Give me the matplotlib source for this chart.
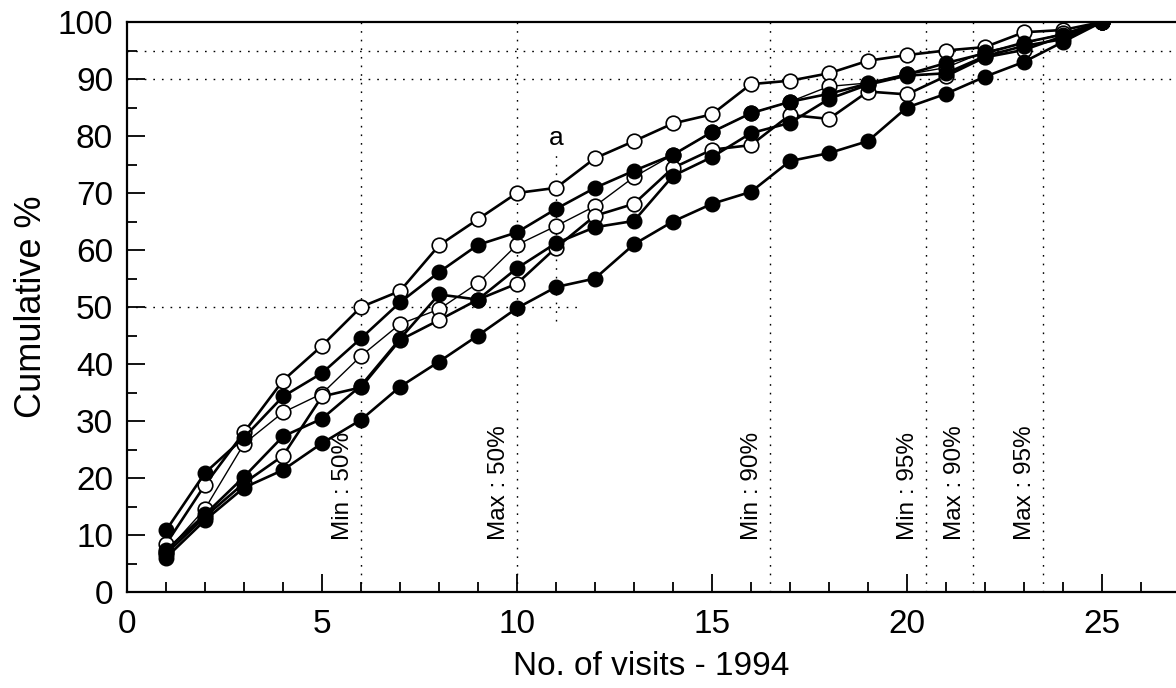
import numpy as np
import matplotlib.pyplot as plt
from matplotlib.ticker import MultipleLocator

plt.rcParams['font.family'] = ['Liberation Sans', 'DejaVu Sans']

# Visit number (1..25) and cumulative percentage for each site
visits = list(range(1, 26))

open_top = [8.4, 18.8, 28.0, 37.1, 43.2, 50.0, 52.8, 60.8, 65.4, 70.0, 70.9, 76.1, 79.1,
            82.2, 83.8, 89.1, 89.7, 91.0, 93.2, 94.2, 95.0, 95.6, 98.2, 98.6, 100]
open_thin = [7.0, 14.6, 26.0, 31.5, 34.8, 41.4, 47.0, 49.6, 54.2, 60.9, 64.2, 67.7, 72.8,
             76.7, 80.7, 84.0, 86.0, 88.7, 89.3, 90.8, 92.0, 94.8, 96.2, 98.0, 100]
open_mid = [6.7, 13.2, 19.1, 23.9, 34.3, 35.9, 44.2, 47.7, 51.3, 54.1, 60.4, 66.0, 68.1,
            74.4, 77.6, 78.4, 83.7, 83.0, 87.8, 87.3, 90.5, 93.8, 95.1, 97.5, 100]
filled_top = [10.8, 20.9, 27.1, 34.3, 38.4, 44.5, 50.8, 56.1, 60.9, 63.1, 67.2, 70.9, 73.9,
              76.7, 80.7, 84.0, 86.0, 87.4, 89.2, 90.8, 92.8, 94.5, 96.4, 97.8, 100]
filled_mid = [7.3, 13.6, 20.2, 27.3, 30.4, 36.2, 44.4, 52.2, 51.3, 56.8, 61.2, 64.0, 65.1,
              73.0, 76.3, 80.5, 82.3, 86.5, 89.0, 90.6, 91.0, 94.0, 95.8, 97.0, 100]
filled_low = [6.0, 12.6, 18.3, 21.4, 26.1, 30.2, 36.0, 40.4, 45.0, 49.8, 53.5, 55.0, 61.0,
              65.0, 68.1, 70.2, 75.6, 77.0, 79.1, 85.0, 87.4, 90.4, 93.0, 96.5, 100]

# Min / max visit counts needed to reach 50, 90 and 95 %
thresh_x = [6, 10, 16.5, 20.5, 21.7, 23.5]
thresh_labels = ['Min : 50%', 'Max : 50%', 'Min : 90%', 'Min : 95%', 'Max : 90%', 'Max : 95%']
h_levels = [90, 95]

fig = plt.figure(figsize=(11.76, 6.88), dpi=100)
ax = fig.add_axes([127 / 1176, 96 / 688, 1049 / 1176, 570 / 688])

dot = (0, (1.2, 5))
for xv in thresh_x:
    ax.plot([xv, xv], [0, 100], color='black', lw=1.0, ls=dot, zorder=1)
for yv in h_levels:
    ax.plot([0, 27], [yv, yv], color='black', lw=1.0, ls=dot, zorder=1)
ax.plot([0, 11.7], [50, 50], color='black', lw=1.0, ls=dot, zorder=1)
ax.plot([11, 11], [47.5, 77.5], color='black', lw=1.0, ls=dot, zorder=1)
ax.text(11, 79.6, 'a', ha='center', va='center', fontsize=19)

for xv, lab in zip(thresh_x, thresh_labels):
    ax.text(xv - 0.18, 9.1, lab, rotation=90, ha='right', va='bottom', fontsize=17.5)

# open symbols first, filled ones drawn over them
open_kw = dict(marker='o', ms=10.5, mfc='white', mec='black', mew=1.2, color='black')
ax.plot(visits, open_top, lw=1.9, zorder=3, **open_kw)
ax.plot(visits, open_thin, lw=1.0, zorder=3, **open_kw)
ax.plot(visits, open_mid, lw=1.9, zorder=3, **open_kw)

filled_kw = dict(marker='o', ms=10.5, mfc='black', mec='black', color='black')
ax.plot(visits, filled_top, lw=1.9, zorder=4, **filled_kw)
ax.plot(visits, filled_mid, lw=1.9, zorder=4, **filled_kw)
ax.plot(visits, filled_low, lw=1.9, zorder=4, **filled_kw)

ax.set_xlim(0, 26.9)
ax.set_ylim(0, 100)
ax.xaxis.set_major_locator(MultipleLocator(5))
ax.xaxis.set_minor_locator(MultipleLocator(1))
ax.yaxis.set_major_locator(MultipleLocator(10))
ax.yaxis.set_minor_locator(MultipleLocator(5))
ax.tick_params(which='both', direction='in', width=1.3, labelsize=24)
ax.tick_params(which='major', length=13)
ax.tick_params(axis='x', which='major', pad=12)
ax.tick_params(axis='y', which='major', pad=10)
ax.tick_params(which='minor', length=7)
ax.tick_params(top=False, right=False)

for side in ['left', 'bottom', 'top']:
    ax.spines[side].set_linewidth(1.6)
ax.spines['right'].set_visible(False)

ax.set_xlabel('No. of visits - 1994', fontsize=24, labelpad=8)
ax.set_ylabel('Cumulative %', fontsize=26, labelpad=6)

fig.savefig('out.png', dpi=100)
